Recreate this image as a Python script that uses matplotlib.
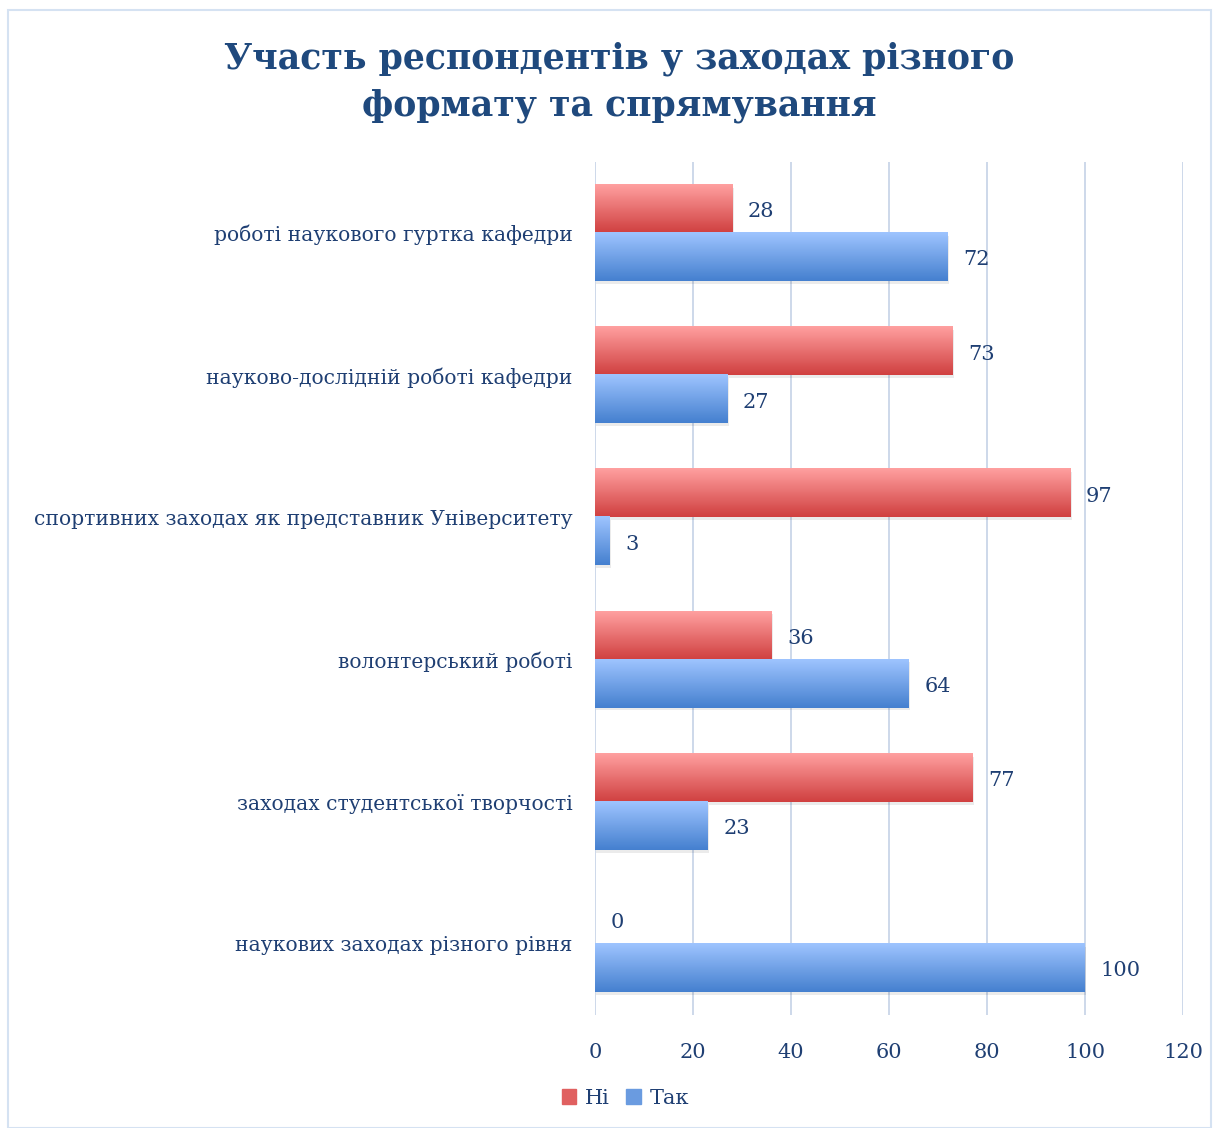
import numpy as np
import matplotlib
matplotlib.use('Agg')
import matplotlib.pyplot as plt
from matplotlib.colors import LinearSegmentedColormap
from matplotlib.patches import Rectangle

categories = ['наукових заходах різного рівня',
              'заходах студентської творчості',
              'волонтерський роботі',
              'спортивних заходах як представник Університету',
              'науково-дослідній роботі кафедри',
              'роботі наукового гуртка кафедри']
ni = [0, 77, 36, 97, 73, 28]
tak = [100, 23, 64, 3, 27, 72]
xticks = [0, 20, 40, 60, 80, 100, 120]

plt.rcParams['font.family'] = ['DejaVu Serif']
txt = '#1F3F73'

fig = plt.figure(figsize=(12.19, 11.28), dpi=100)
ax = fig.add_axes([595 / 1219, 1 - 1015 / 1128, (1183 - 595) / 1219, (1015 - 162) / 1128])

red_cm = LinearSegmentedColormap.from_list('r', ['#FFA0A0', '#D04040'])
blue_cm = LinearSegmentedColormap.from_list('b', ['#9EC4FF', '#4580CF'])
grad = np.linspace(0, 1, 64).reshape(-1, 1)

y = np.arange(len(categories))
h = 0.338

def gbar(yc, w, cmap):
    if w <= 0:
        return
    # soft shadow
    ax.add_patch(Rectangle((0.3, yc - h / 2 - 0.02), w, h, color='#000000', alpha=0.08, lw=0, zorder=2))
    ax.imshow(grad, cmap=cmap, aspect='auto', extent=(0, w, yc - h / 2, yc + h / 2),
              origin='upper', zorder=3, interpolation='bicubic')

for i in range(len(categories)):
    gbar(y[i] + h / 2, ni[i], red_cm)
    gbar(y[i] - h / 2, tak[i], blue_cm)
    ax.text(ni[i] + 3.2, y[i] + h / 2 - 0.02, str(ni[i]), va='center', ha='left', fontsize=15, color=txt)
    ax.text(tak[i] + 3.2, y[i] - h / 2 - 0.02, str(tak[i]), va='center', ha='left', fontsize=15, color=txt)

ax.set_xlim(0, 120)
ax.set_ylim(-0.5, len(categories) - 0.5)
ax.set_xticks(xticks)
ax.set_yticks(y)
ax.set_yticklabels(categories)
ax.tick_params(axis='x', length=0, labelsize=15, labelcolor=txt, pad=20)
ax.tick_params(axis='y', length=0, labelsize=14.6, labelcolor=txt, pad=16)
for s in ax.spines.values():
    s.set_visible(False)
ax.grid(axis='x', color='#C9D6E8', lw=1.3)
ax.set_axisbelow(True)

fig.text(0.508, 1 - 83 / 1128, 'Участь респондентів у заходах різного\nформату та спрямування',
         ha='center', va='center', fontsize=25, fontweight='bold', color='#1F497D', linespacing=1.5)

# legend
handles = [Rectangle((0, 0), 1, 1, color='#E06060'), Rectangle((0, 0), 1, 1, color='#6A9BE0')]
fig.legend(handles, ['Ні', 'Так'], loc='center', bbox_to_anchor=(0.513, 1 - 1098 / 1128), ncol=2,
           frameon=False, fontsize=15, labelcolor=txt, handlelength=0.7, handleheight=0.7,
           handletextpad=0.4, columnspacing=0.8)

# outer frame
fig.patches.append(Rectangle((8 / 1219, 0), 1 - 16 / 1219, 1 - 10 / 1128, transform=fig.transFigure,
                             fill=False, edgecolor='#D5E2F2', lw=1.5))

fig.savefig('out.png', dpi=100)
